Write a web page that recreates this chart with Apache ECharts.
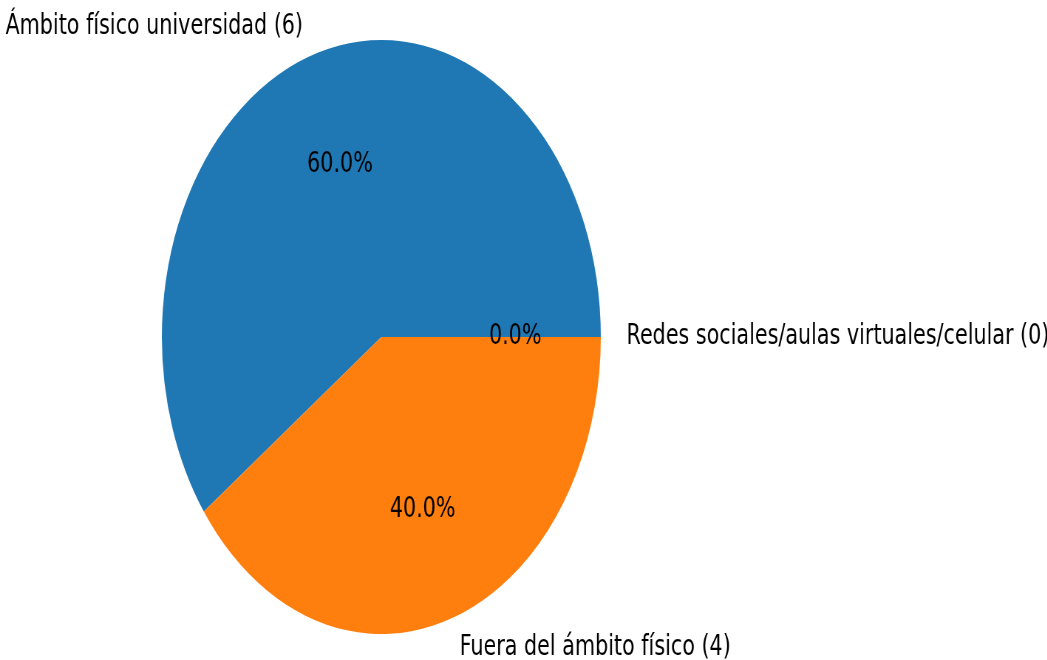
<!DOCTYPE html>
<html>
<head>
<meta charset="utf-8">
<script src="https://cdn.jsdelivr.net/npm/echarts@6/dist/echarts.min.js"></script>
<style>
  html, body { margin: 0; padding: 0; background: #fff; overflow: hidden; }
  #wrap { width: 1047px; height: 660px; overflow: hidden; }
  /* el gráfico original está achatado horizontalmente */
  #chart { width: 1417px; height: 660px; transform: scaleX(0.739); transform-origin: 0 0; }
</style>
</head>
<body>
<div id="wrap"><div id="chart"></div></div>
<script>
const categories = ['Ámbito físico universidad', 'Fuera del ámbito físico', 'Redes sociales/aulas virtuales/celular']
const values = [6, 4, 0]
const colors = ['#1f77b4', '#ff7f0e', '#2ca02c']

const total = values.reduce((a, b) => a + b, 0)
const R = 297
const center = [516, 337]
const fontBase = { fontFamily: 'DejaVu Sans', fontSize: 28, color: '#000' }

const pieData = categories.map((name, i) => ({ name, value: values[i], itemStyle: { color: colors[i] } }))

const chart = echarts.init(document.getElementById('chart'))
chart.setOption({
  animation: false,
  series: [
    {
      type: 'pie',
      center,
      radius: [0, R],
      startAngle: 0,
      clockwise: false,
      avoidLabelOverlap: false,
      silent: true,
      emphasis: { disabled: true },
      data: pieData,
      label: {
        show: true,
        position: 'outside',
        ...fontBase,
        formatter: p => p.name + ' (' + p.value + ')'
      },
      labelLine: { show: false, length: R * 0.1, length2: 0 }
    },
    {
      // serie transparente solo para los porcentajes a 0.6 del radio
      type: 'pie',
      center,
      radius: [0, R * 1.2],
      startAngle: 0,
      clockwise: false,
      avoidLabelOverlap: false,
      silent: true,
      z: 3,
      emphasis: { disabled: true },
      data: categories.map((name, i) => ({ name, value: values[i] })),
      itemStyle: { color: 'rgba(0,0,0,0)' },
      label: {
        show: true,
        position: 'inside',
        ...fontBase,
        formatter: p => (p.value / total * 100).toFixed(1) + '%'
      },
      labelLine: { show: false }
    }
  ]
})
</script>
</body>
</html>
